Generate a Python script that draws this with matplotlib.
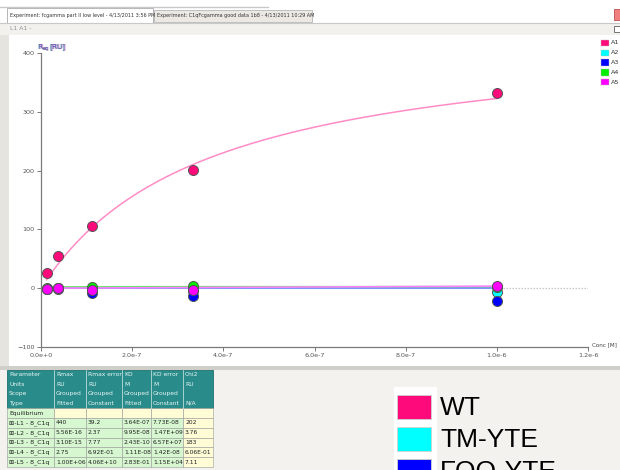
import numpy as np
import matplotlib
matplotlib.use("Agg")
import matplotlib.pyplot as plt
from matplotlib.patches import Rectangle

# ---- data -------------------------------------------------------------
conc = [1.23e-8, 3.70e-8, 1.11e-7, 3.33e-7, 1.0e-6]          # M
series_ids = ["A1", "A2", "A3", "A4", "A5"]
resp_a1 = [26, 55, 105, 201, 332]                              # RU
resp_a2 = [-1, 0, -3, -5, -6]
resp_a3 = [-1, -1, -8, -13, -22]
resp_a4 = [0, 1, 2, 3, 2]
resp_a5 = [-1, 0, -3, -3, 4]

# steady-state affinity fit results
fit_rmax = [440, 5.56e-16, 3.10e-15, 2.75, 1.00e6]
fit_kd = [3.64e-7, 9.95e-8, 2.43e-10, 1.11e-8, 2.83e-1]

table_cols = ["Rmax", "Rmax error", "KD", "KD error", "Chi2"]
table_units = ["RU", "RU", "M", "M", "RU"]
table_scope = ["Grouped", "Grouped", "Grouped", "Grouped", ""]
table_type = ["Fitted", "Constant", "Fitted", "Constant", "N/A"]
table_rows = ["L1 - 8_C1q", "L2 - 8_C1q", "L3 - 8_C1q", "L4 - 8_C1q", "L5 - 8_C1q"]
table_rmax = ["440", "5.56E-16", "3.10E-15", "2.75", "1.00E+06"]
table_rmax_err = ["39.2", "2.37", "7.77", "6.92E-01", "4.06E+10"]
table_kd = ["3.64E-07", "9.95E-08", "2.43E-10", "1.11E-08", "2.83E-01"]
table_kd_err = ["7.73E-08", "1.47E+09", "6.57E+07", "1.42E-08", "1.15E+04"]
table_chi2 = ["202", "3.76", "183", "6.06E-01", "7.11"]

legend_labels = ["WT", "TM-YTE", "FQQ-YTE"]

x_ticks = [0, 2e-7, 4e-7, 6e-7, 8e-7, 1.0e-6, 1.2e-6]
x_tick_labels = ["0.0e+0", "2.0e-7", "4.0e-7", "6.0e-7", "8.0e-7", "1.0e-6", "1.2e-6"]
y_ticks = [-100, 0, 100, 200, 300, 400]

# ---- styling ----------------------------------------------------------
dot_colors = ["#ff0a7a", "#00ffff", "#0000ff", "#00ee00", "#ff00ff"]
fit_colors = ["#ff8cc6", "#70f0f0", "#7a7aff", "#70e070", "#ff80ff"]

W, H = 620, 470
fig = plt.figure(figsize=(W / 100, H / 100), dpi=100)
fig.patch.set_facecolor("#f4f2ee")

# background layer in pixel coordinates (origin top-left)
bg = fig.add_axes([0, 0, 1, 1])
bg.set_xlim(0, W)
bg.set_ylim(H, 0)
bg.axis("off")

def rect(x0, y0, x1, y1, fc, ec="none", lw=0.6, z=1):
    bg.add_patch(Rectangle((x0, y0), x1 - x0, y1 - y0, facecolor=fc,
                           edgecolor=ec, linewidth=lw, zorder=z))

def txt(x, y, s, size=4.6, color="#333333", z=4):
    bg.text(x, y, s, fontsize=size, color=color, va="center", zorder=z)

# window chrome
rect(0, 0, W, 24, "#ffffff")
bg.plot([0, 268], [7, 7], color="#c8c8c8", lw=1.0, zorder=2)
rect(154, 10, 312, 22, "#ece9e4", ec="#b8b8b8")
rect(7, 8, 153, 23, "#ffffff", ec="#a8a8a8")
txt(10, 15.5, "Experiment: fcgamma part II low level - 4/13/2011 3:56 PM", size=3.55)
txt(157, 16, "Experiment: C1qFcgamma good data 1b8 - 4/13/2011 10:29 AM", size=3.55)
rect(614, 9, 620, 20, "#f08080", ec="#c05050")
rect(0, 23, W, 35, "#f2f1ee")
bg.plot([0, W], [23, 23], color="#c8c8c8", lw=0.8, zorder=2)
txt(10, 29, "L1 A1 -", size=4.4, color="#909090")
rect(614, 26, 620, 32, "#ffffff", ec="#606060")
rect(0, 35, 9, 366, "#e6e4df")
rect(9, 35, W, 366, "#ffffff")
rect(0, 366, W, 370, "#d0cec9")

# small series key at the top right
for i, sid in enumerate(series_ids):
    yy = 43 + i * 9.8
    rect(601, yy - 3.2, 609, yy + 3.2, dot_colors[i], ec="#bbbbbb", lw=0.3, z=3)
    txt(611, yy, sid, size=4.6)

# fit table
col_x = [7, 54, 86, 122, 151, 183, 213]
hdr_y = [370, 379.5, 389, 398.5, 408]
row_y = [408, 418, 427.8, 437.6, 447.4, 457.2, 467]
rect(col_x[0], hdr_y[0], col_x[-1], hdr_y[-1], "#2a8c8a", ec="#1f6e6c")
for c in col_x[1:-1]:
    bg.plot([c, c], [hdr_y[0], hdr_y[-1]], color="#d8eeee", lw=0.5, zorder=3)
hdr_first = ["Parameter", "Units", "Scope", "Type"]
hdr_vals = [table_cols, table_units, table_scope, table_type]
for r in range(4):
    yc = (hdr_y[r] + hdr_y[r + 1]) / 2
    txt(col_x[0] + 2, yc, hdr_first[r], size=4.3, color="#e8f6f6")
    for c in range(5):
        txt(col_x[c + 1] + 2, yc, hdr_vals[r][c], size=4.3, color="#e8f6f6")

green_cell = "#d6f7d0"
yellow_cell = "#fffcd6"
cell_edge = "#9a9a9a"
rect(col_x[0], row_y[0], col_x[1], row_y[1], green_cell, ec=cell_edge, lw=0.4, z=2)
for c in range(1, 6):
    rect(col_x[c], row_y[0], col_x[c + 1], row_y[1], yellow_cell, ec=cell_edge, lw=0.4, z=2)
txt(col_x[0] + 2, (row_y[0] + row_y[1]) / 2, "Equilibrium", size=4.3, color="#222222")
cols_data = [table_rmax, table_rmax_err, table_kd, table_kd_err, table_chi2]
for r, name in enumerate(table_rows):
    y0, y1 = row_y[r + 1], row_y[r + 2]
    yc = (y0 + y1) / 2
    for c in range(6):
        fc = yellow_cell if c == 5 else green_cell
        rect(col_x[c], y0, col_x[c + 1], y1, fc, ec=cell_edge, lw=0.4, z=2)
    txt(col_x[0] + 2, yc, "\u229e-" + name, size=4.5, color="#222222")
    for c in range(5):
        txt(col_x[c + 1] + 2, yc, cols_data[c][r], size=4.3, color="#222222")

# large legend
rect(394, 387, 437, 472, "#ffffff", z=2)
leg_y = [395, 427, 459]
for i, lab in enumerate(legend_labels):
    rect(397, leg_y[i], 431, leg_y[i] + 24, dot_colors[i], ec="#d0d0d0", lw=0.6, z=3)
    bg.text(440, leg_y[i] + 13, lab, fontsize=19, color="#000000",
            va="center", family="Liberation Sans", zorder=4)

# ---- the binding plot -------------------------------------------------
ax = fig.add_axes([41 / W, 1 - 347 / H, (588 - 41) / W, (347 - 53) / H])
ax.patch.set_alpha(0)
ax.set_xlim(0, 1.2e-6)
ax.set_ylim(-100, 400)
for s in ["top", "right"]:
    ax.spines[s].set_visible(False)
for s in ["left", "bottom"]:
    ax.spines[s].set_color("#7a7a7a")
    ax.spines[s].set_linewidth(0.9)
ax.set_xticks(x_ticks)
ax.set_xticklabels(x_tick_labels)
ax.set_yticks(y_ticks)
ax.tick_params(axis="both", labelsize=4.6, colors="#7a7a7a", labelcolor="#555555",
               length=3, width=0.7, pad=1.5)

ax.axhline(0, color="#c8c8c8", lw=0.9, ls=(0, (1.2, 1.2)), zorder=1)

responses = [resp_a1, resp_a2, resp_a3, resp_a4, resp_a5]
cfit = np.linspace(conc[0], conc[-1], 300)
for i in range(5):
    model = fit_rmax[i] * cfit / (fit_kd[i] + cfit)
    ax.plot(cfit, model, color=fit_colors[i], lw=1.1, zorder=2)
for i in range(5):
    ax.plot(conc, responses[i], ls="none", marker="o", ms=7.2,
            mfc=dot_colors[i], mec="#555555", mew=0.7, zorder=3 + i,
            clip_on=False)

# axis titles
for dx, col in [(0.0, "#3aa03a"), (0.6, "#3050d0"), (1.1, "#a040c0")]:
    bg.text(37 + dx, 47, "R", fontsize=5.2, color=col, va="center", alpha=0.8)
    bg.text(42 + dx, 48.5, "eq", fontsize=3.8, color=col, va="center", alpha=0.8)
    bg.text(49 + dx, 47, "[RU]", fontsize=5.2, color=col, va="center", alpha=0.8)
bg.text(592, 345, "Conc [M]", fontsize=4.1, color="#444444", va="center")

fig.savefig("out.png", dpi=100, facecolor=fig.get_facecolor())
